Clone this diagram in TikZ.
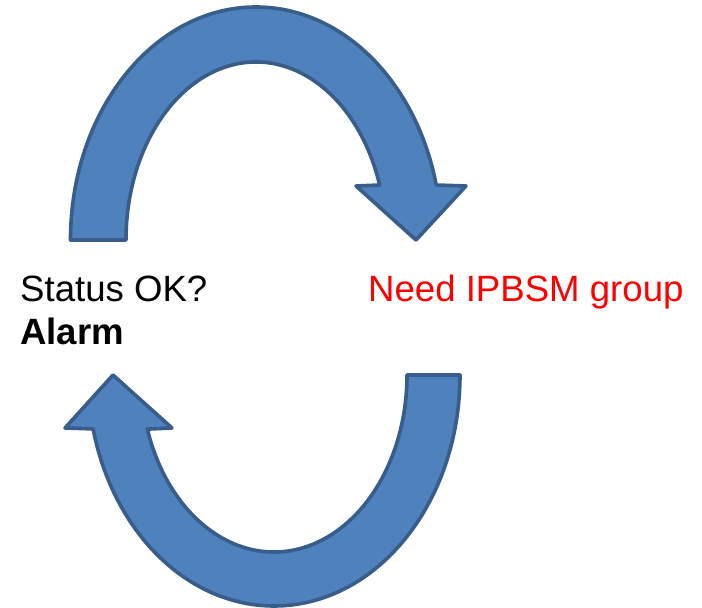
\documentclass[tikz,border=0pt]{standalone}
\usepackage{fontspec}
\setmainfont{Liberation Sans}
\definecolor{arrfill}{HTML}{4F81BD}
\definecolor{arrline}{HTML}{385D8A}
\begin{document}
\begin{tikzpicture}[x=1pt,y=1pt,
  bigarrow/.style={fill=arrfill,draw=arrline,line width=3.6pt,line join=round},
  lbl/.style={anchor=base west,inner sep=0pt,font=\fontsize{36.6}{44}\selectfont}]
\useasboundingbox (0,0) rectangle (702,608);
% top curved arrow
\draw[bigarrow] (70.5,368)
  arc[start angle=180,end angle=13.65,x radius=185.5pt,y radius=233pt]
  -- (466,422) -- (416,368) -- (356,422)
  -- ([shift={(256,368)}]18:130pt and 178pt)
  arc[start angle=18,end angle=180,x radius=130pt,y radius=178pt]
  -- cycle;
% bottom curved arrow
\draw[bigarrow] (460,233)
  arc[start angle=0,end angle=-166.5,x radius=186pt,y radius=231pt]
  -- (65,180) -- (113,233) -- (172,180)
  -- ([shift={(274,233)}]-162.2:133pt and 177pt)
  arc[start angle=-162.2,end angle=0,x radius=133pt,y radius=177pt]
  -- cycle;
\node[lbl] (status) at (20,306) {Status OK?};
\node[lbl,font=\fontsize{36.6}{44}\selectfont\bfseries] (alarm) at (20,263) {Alarm};
\node[lbl,text={rgb,255:red,255;green,0;blue,0}] (need) at (368,306) {Need IPBSM group};
\end{tikzpicture}
\end{document}
